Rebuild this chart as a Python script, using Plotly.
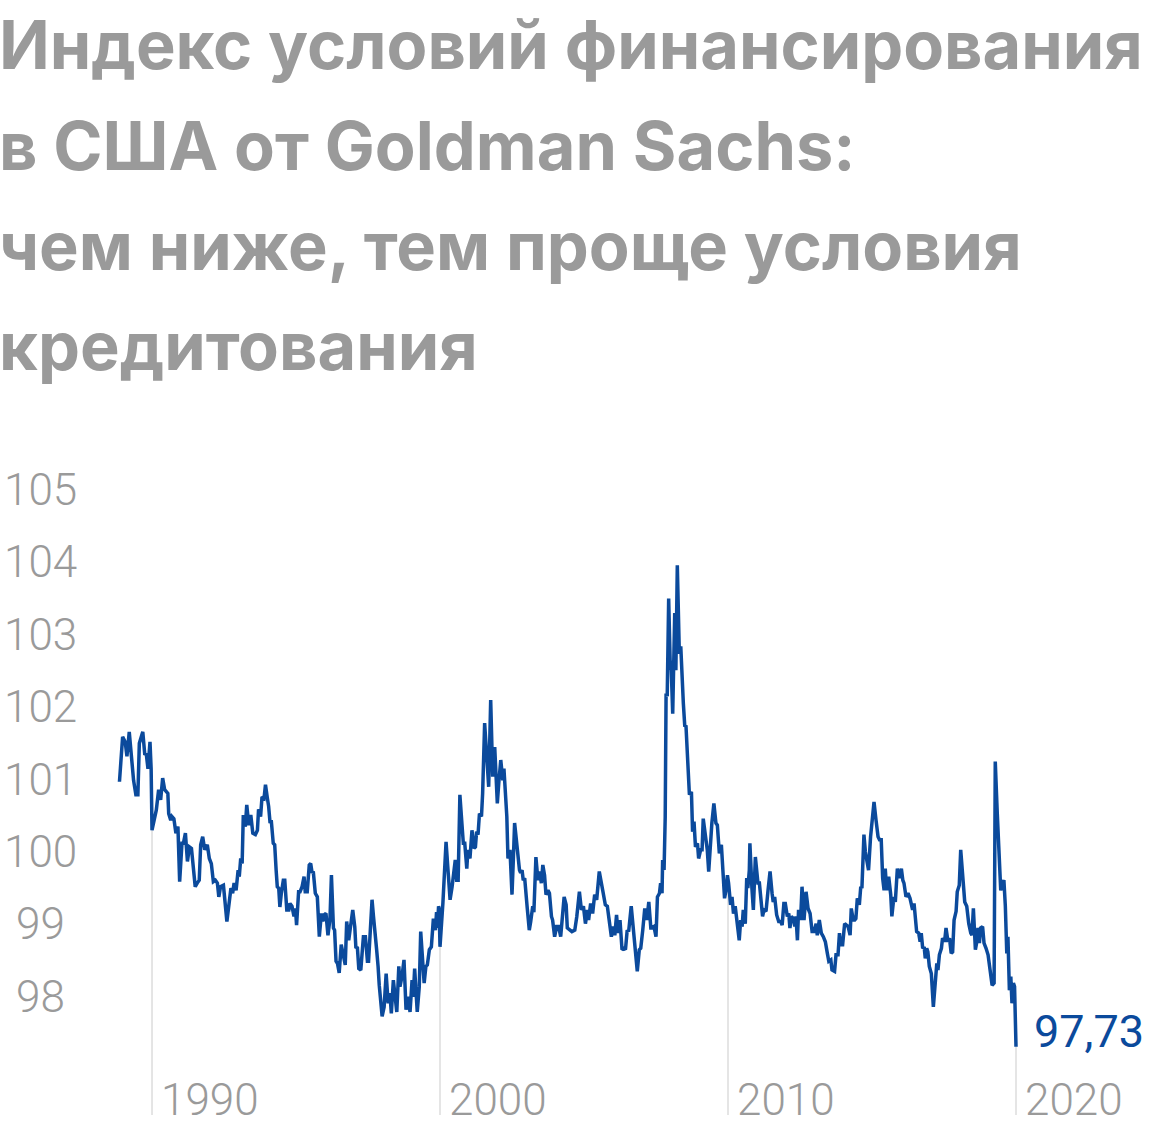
import numpy as np
import plotly.graph_objects as go

# ---- data ----
years = [
    1988.87, 1988.98, 1989.07, 1989.13, 1989.21, 1989.31, 1989.36, 1989.44, 1989.51, 1989.56,
    1989.68, 1989.75, 1989.80, 1989.86, 1989.93, 1989.97, 1990.00, 1990.15, 1990.23, 1990.30,
    1990.37, 1990.44, 1990.55, 1990.58, 1990.65, 1990.69, 1990.76, 1990.83, 1990.90, 1990.96,
    1991.04, 1991.09, 1991.16, 1991.23, 1991.30, 1991.37, 1991.50, 1991.57, 1991.64, 1991.69,
    1991.76, 1991.83, 1991.92, 1991.99, 1992.06, 1992.13, 1992.20, 1992.27, 1992.32, 1992.38,
    1992.48, 1992.60,
    1992.74, 1992.80, 1992.85, 1992.92, 1992.99, 1993.03, 1993.08, 1993.13, 1993.17, 1993.24,
    1993.29, 1993.36, 1993.43, 1993.50, 1993.59, 1993.66, 1993.70, 1993.77, 1993.82, 1993.89,
    1993.94, 1994.00, 1994.05, 1994.10, 1994.14, 1994.21, 1994.26, 1994.31, 1994.35, 1994.40,
    1994.44, 1994.49, 1994.56, 1994.61, 1994.68, 1994.75, 1994.79, 1994.86, 1994.93, 1994.98,
    1995.02, 1995.09, 1995.14, 1995.21, 1995.28, 1995.32, 1995.39, 1995.46, 1995.51, 1995.56,
    1995.60, 1995.67, 1995.74, 1995.81, 1995.88, 1995.93, 1995.97, 1996.04, 1996.11, 1996.18,
    1996.23, 1996.30, 1996.34, 1996.39, 1996.44, 1996.50, 1996.57,
    1996.71, 1996.76, 1996.83, 1996.88, 1996.97, 1997.04, 1997.08, 1997.13, 1997.18, 1997.25,
    1997.34, 1997.41, 1997.48, 1997.52, 1997.57, 1997.64, 1997.69, 1997.76, 1997.80, 1997.85,
    1997.89, 1997.99, 1998.06, 1998.13, 1998.20, 1998.26, 1998.31, 1998.38, 1998.43, 1998.50,
    1998.57, 1998.61, 1998.68, 1998.75, 1998.82, 1998.89, 1998.96, 1999.03, 1999.07, 1999.12,
    1999.21, 1999.28, 1999.33, 1999.40, 1999.45, 1999.51, 1999.56, 1999.63, 1999.70, 1999.77,
    1999.84, 1999.88, 1999.91, 1999.95, 1999.97, 2000.00, 2000.10, 2000.21, 2000.28, 2000.35,
    2000.42,
    2000.53, 2000.58, 2000.63, 2000.69, 2000.74, 2000.81, 2000.86, 2000.93, 2000.97, 2001.04,
    2001.11, 2001.18, 2001.23, 2001.27, 2001.32, 2001.37, 2001.44, 2001.48, 2001.55, 2001.64,
    2001.69, 2001.76, 2001.83, 2001.90, 2001.94, 2001.99, 2002.04, 2002.11, 2002.18, 2002.22,
    2002.32, 2002.36, 2002.43, 2002.50, 2002.55, 2002.59, 2002.64, 2002.69, 2002.76, 2002.80,
    2002.85, 2002.89, 2002.94, 2003.03, 2003.10, 2003.15, 2003.22, 2003.26, 2003.33, 2003.40,
    2003.45, 2003.52, 2003.57, 2003.63, 2003.68, 2003.75, 2003.80, 2003.87, 2003.91, 2003.98,
    2004.05, 2004.12, 2004.19, 2004.26, 2004.31, 2004.38, 2004.42,
    2004.58, 2004.68, 2004.75, 2004.84, 2004.91, 2004.98, 2005.05, 2005.12, 2005.16, 2005.23,
    2005.30, 2005.37, 2005.44, 2005.53, 2005.65, 2005.74, 2005.81, 2005.88, 2005.95, 2006.02,
    2006.07, 2006.13, 2006.18, 2006.25, 2006.32, 2006.39, 2006.44, 2006.50, 2006.55, 2006.64,
    2006.71, 2006.76, 2006.85, 2006.92, 2006.97, 2007.04, 2007.11, 2007.18, 2007.25, 2007.32,
    2007.36, 2007.43, 2007.50, 2007.55, 2007.62, 2007.66, 2007.71, 2007.73, 2007.78, 2007.82,
    2007.85, 2007.89, 2007.92, 2007.94, 2007.99, 2008.03, 2008.08, 2008.15, 2008.19, 2008.24,
    2008.31, 2008.36,
    2008.45, 2008.50, 2008.54, 2008.61, 2008.66, 2008.73, 2008.77, 2008.82, 2008.87, 2008.94,
    2008.98, 2009.05, 2009.10, 2009.14, 2009.21, 2009.28, 2009.33, 2009.40, 2009.44, 2009.51,
    2009.58, 2009.63, 2009.70, 2009.77, 2009.84, 2009.88, 2009.93, 2009.98, 2010.02, 2010.09,
    2010.14, 2010.19, 2010.25, 2010.32, 2010.39, 2010.44, 2010.49, 2010.53, 2010.60, 2010.65,
    2010.69, 2010.74, 2010.76, 2010.83, 2010.88, 2010.95, 2011.00, 2011.04, 2011.09, 2011.16,
    2011.20, 2011.25, 2011.32, 2011.39, 2011.46, 2011.53, 2011.57, 2011.62, 2011.69, 2011.76,
    2011.83, 2011.88, 2011.94, 2011.99, 2012.06, 2012.11, 2012.15, 2012.20, 2012.27, 2012.32,
    2012.36, 2012.41,
    2012.45, 2012.52, 2012.57, 2012.64, 2012.71, 2012.78, 2012.85, 2012.92, 2012.99, 2013.06,
    2013.10, 2013.17, 2013.24, 2013.31, 2013.38, 2013.45, 2013.50, 2013.57, 2013.61, 2013.70,
    2013.75, 2013.82, 2013.87, 2013.91, 2013.98, 2014.05, 2014.10, 2014.17, 2014.24, 2014.28,
    2014.35, 2014.40, 2014.44, 2014.49, 2014.56, 2014.61, 2014.65, 2014.72, 2014.77, 2014.82,
    2014.88, 2014.95, 2015.02, 2015.07, 2015.14, 2015.21, 2015.26, 2015.32, 2015.37, 2015.42,
    2015.46, 2015.51, 2015.58, 2015.65, 2015.69, 2015.76, 2015.81, 2015.88, 2015.95, 2016.02,
    2016.07, 2016.11, 2016.18, 2016.25, 2016.32,
    2016.41, 2016.46, 2016.51, 2016.55, 2016.62, 2016.67, 2016.71, 2016.76, 2016.81, 2016.85,
    2016.90, 2016.94, 2016.99, 2017.06, 2017.13, 2017.20, 2017.25, 2017.29, 2017.34, 2017.41,
    2017.45, 2017.52, 2017.57, 2017.64, 2017.69, 2017.75, 2017.80, 2017.85, 2017.92, 2017.96,
    2018.03, 2018.08, 2018.13, 2018.17, 2018.22, 2018.29, 2018.36, 2018.43, 2018.47, 2018.52,
    2018.59, 2018.63, 2018.68, 2018.73, 2018.77, 2018.84, 2018.89, 2018.96, 2019.03, 2019.10,
    2019.17, 2019.24, 2019.28, 2019.35, 2019.42, 2019.47, 2019.54, 2019.58, 2019.63, 2019.68,
    2019.72, 2019.77, 2019.82, 2019.86, 2019.91, 2019.95, 2020.00,
]

fci_values = [
    100.97, 101.59, 101.52, 101.32, 101.66, 101.13, 100.99, 100.79, 100.79, 101.50,
    101.66, 101.34, 101.36, 101.15, 101.52, 101.15, 100.30, 100.58, 100.86, 100.72,
    101.02, 100.86, 100.81, 100.53, 100.44, 100.49, 100.46, 100.26, 100.35, 99.59,
    100.12, 100.12, 100.26, 99.87, 100.07, 100.05, 99.52, 99.57, 99.61, 100.10,
    100.21, 100.03, 100.10, 99.91, 99.84, 99.59, 99.61, 99.57, 99.38, 99.52,
    99.54, 99.04,
    99.50, 99.43, 99.57, 99.47, 99.75, 99.66, 99.91, 99.84, 100.51, 100.35,
    100.65, 100.37, 100.51, 100.26, 100.24, 100.30, 100.59, 100.49, 100.76, 100.74,
    100.93, 100.76, 100.63, 100.40, 100.44, 100.12, 100.10, 99.75, 99.52, 99.50,
    99.24, 99.43, 99.61, 99.61, 99.20, 99.20, 99.29, 99.25, 99.11, 99.22,
    98.99, 99.45, 99.45, 99.52, 99.66, 99.45, 99.45, 99.82, 99.84, 99.71,
    99.73, 99.43, 99.38, 98.83, 99.15, 99.04, 99.13, 99.15, 98.85, 99.08,
    99.68, 98.95, 98.92, 98.49, 98.46, 98.33, 98.72,
    98.44, 99.04, 98.78, 98.97, 99.20, 98.97, 98.67, 98.69, 98.39, 98.37,
    98.83, 98.83, 98.49, 98.49, 98.88, 99.34, 99.11, 98.88, 98.65, 98.42,
    98.16, 97.73, 97.86, 98.32, 97.91, 98.05, 97.77, 98.23, 98.07, 97.79,
    98.42, 98.14, 98.28, 98.51, 97.82, 98.00, 97.79, 98.23, 98.00, 98.39,
    97.79, 98.14, 98.90, 98.42, 98.19, 98.42, 98.44, 98.65, 98.69, 99.08,
    98.92, 99.17, 98.95, 99.25, 99.22, 98.69, 99.29, 100.14, 99.75, 99.34,
    99.52,
    99.89, 99.61, 99.61, 100.79, 100.49, 100.12, 100.12, 99.77, 100.03, 99.91,
    100.30, 100.05, 100.07, 100.28, 100.24, 100.53, 100.49, 100.81, 101.78, 101.22,
    100.90, 102.10, 101.04, 101.45, 101.04, 100.67, 100.95, 101.27, 100.99, 101.15,
    100.49, 99.91, 100.03, 99.41, 99.93, 100.40, 100.21, 99.98, 99.75, 99.71,
    99.75, 99.61, 99.64, 99.22, 98.92, 99.04, 99.25, 99.17, 99.93, 99.61,
    99.73, 99.57, 99.82, 99.68, 99.41, 99.47, 99.43, 99.11, 99.06, 98.83,
    98.97, 98.97, 98.83, 99.15, 99.38, 99.27, 98.95,
    98.90, 98.92, 99.11, 99.45, 99.20, 99.25, 99.01, 99.20, 99.06, 99.29,
    99.15, 99.41, 99.34, 99.73, 99.47, 99.27, 99.25, 99.01, 98.83, 98.97,
    98.85, 99.13, 98.88, 99.06, 98.65, 98.67, 98.65, 98.92, 98.90, 99.25,
    98.97, 98.69, 98.35, 98.65, 98.67, 98.92, 99.22, 99.06, 99.31, 98.95,
    98.95, 98.97, 98.83, 99.38, 99.43, 99.57, 99.43, 99.89, 99.75, 100.49,
    102.19, 102.15, 102.79, 103.50, 102.65, 102.51, 101.91, 103.30, 102.51, 103.96,
    102.74, 102.84,
    102.05, 101.73, 101.75, 101.18, 100.79, 100.83, 100.28, 100.42, 100.07, 100.12,
    99.91, 100.03, 100.03, 100.46, 100.21, 100.03, 99.73, 100.21, 100.40, 100.67,
    100.40, 100.37, 99.98, 100.10, 99.57, 99.36, 99.47, 99.68, 99.57, 99.27,
    99.38, 99.15, 99.25, 98.97, 98.78, 99.06, 98.97, 99.20, 99.01, 99.64,
    99.50, 99.75, 100.12, 99.50, 99.20, 99.93, 99.75, 99.57, 99.57, 99.29,
    99.11, 99.20, 99.18, 99.47, 99.73, 99.43, 99.31, 99.38, 99.13, 99.04,
    99.04, 98.99, 99.29, 99.29, 99.11, 99.15, 98.95, 99.11, 99.08, 98.97,
    99.11, 98.78,
    99.20, 99.06, 99.52, 99.06, 99.45, 99.22, 99.15, 98.90, 98.90, 99.01,
    98.85, 99.06, 98.88, 98.83, 98.76, 98.60, 98.49, 98.51, 98.37, 98.35,
    98.58, 98.58, 98.88, 98.72, 98.72, 99.01, 98.99, 98.97, 98.85, 99.22,
    99.06, 99.06, 99.08, 99.36, 99.27, 99.52, 99.50, 100.24, 100.00, 99.87,
    99.75, 100.21, 100.53, 100.69, 100.44, 100.21, 100.17, 100.17, 99.64, 99.47,
    99.77, 99.47, 99.66, 99.41, 99.11, 99.38, 99.31, 99.77, 99.64, 99.77,
    99.61, 99.57, 99.38, 99.43, 99.36,
    99.20, 99.29, 99.06, 98.90, 98.88, 98.76, 98.88, 98.67, 98.69, 98.53,
    98.67, 98.62, 98.42, 98.32, 97.86, 98.32, 98.46, 98.37, 98.58, 98.67,
    98.81, 98.76, 98.95, 98.76, 98.81, 98.60, 98.62, 99.06, 99.18, 99.45,
    99.54, 100.03, 99.71, 99.45, 99.31, 99.25, 99.01, 98.88, 98.85, 99.22,
    98.65, 98.74, 98.95, 98.74, 98.95, 98.97, 98.74, 98.67, 98.58, 98.37,
    98.16, 98.19, 101.25, 100.53, 100.03, 99.47, 99.57, 99.61, 99.25, 98.60,
    98.83, 98.09, 98.28, 97.91, 98.19, 98.14, 97.31,
]

y_ticks = [98, 99, 100, 101, 102, 103, 104, 105]
x_ticks = [1990, 2000, 2010, 2020]
last_label = "97,73"

title_lines = [
    "Индекс условий финансирования",
    "в США от Goldman Sachs:",
    "чем ниже, тем проще условия",
    "кредитования",
]

# ---- style ----
W, H = 1160, 1136
M_T, M_B = 470, 21
PLOT_H = H - M_T - M_B
BLUE = "#0b4a9c"
GREY = "#9a9a9a"
GRID = "#dcdcdc"
X_RANGE = [1984.722, 2025.0]
Y_RANGE = [96.367, 105.276]


def py(pix):
    """paper y from a pixel row (measured from top of the page)"""
    return (H - M_B - pix) / PLOT_H


fig = go.Figure()
fig.add_trace(go.Scatter(
    x=years, y=fci_values, mode="lines",
    line=dict(color=BLUE, width=3.5),
    hoverinfo="skip", showlegend=False,
))

shapes = []
annotations = []
for yr in x_ticks:
    top = float(np.interp(yr, years, fci_values))
    shapes.append(dict(type="line", xref="x", yref="y", x0=yr, x1=yr,
                       y0=Y_RANGE[0], y1=top, layer="below",
                       line=dict(color=GRID, width=1.5)))
    annotations.append(dict(x=yr, xref="x", y=0, yref="paper", text=str(yr),
                            xanchor="left", yanchor="bottom", xshift=7, yshift=-13,
                            showarrow=False,
                            font=dict(family="Roboto", size=44, color=GREY, weight=300)))

for v in y_ticks:
    annotations.append(dict(x=40 / W, xref="paper", y=v, yref="y", text=str(v),
                            xanchor="center", yanchor="middle", showarrow=False,
                            font=dict(family="Roboto", size=44, color=GREY, weight=300)))

annotations.append(dict(x=years[-1], xref="x", y=fci_values[-1], yref="y", text=last_label,
                        xanchor="left", yanchor="middle", xshift=16, yshift=15,
                        showarrow=False,
                        font=dict(family="Roboto", size=45, color=BLUE, weight=400)))

title_mid = [45, 145, 245, 345]
for line, mid in zip(title_lines, title_mid):
    annotations.append(dict(x=0, xref="paper", y=py(mid), yref="paper", text=line,
                            xanchor="left", yanchor="middle", xshift=-3, showarrow=False,
                            font=dict(family="Inter", size=66.7, color=GREY, weight=700)))

fig.update_layout(
    width=W, height=H, autosize=False,
    margin=dict(l=0, r=0, t=M_T, b=M_B, pad=0),
    paper_bgcolor="white", plot_bgcolor="white",
    xaxis=dict(range=X_RANGE, visible=False, fixedrange=True),
    yaxis=dict(range=Y_RANGE, visible=False, fixedrange=True),
    shapes=shapes, annotations=annotations,
)

fig.write_html("out.html", config={"displayModeBar": False},
               post_script="document.body.style.margin='0';")
